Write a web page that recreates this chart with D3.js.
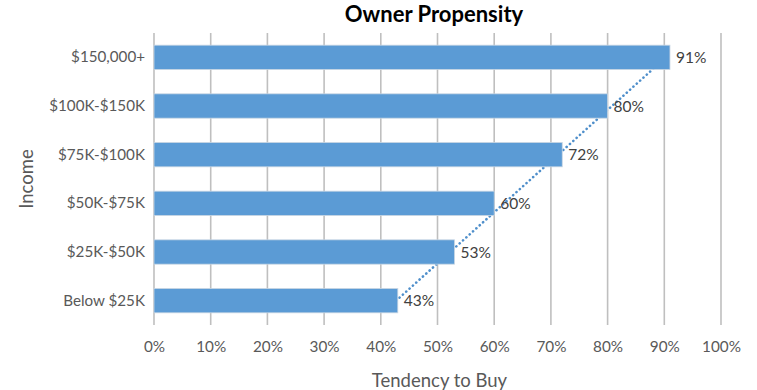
<!DOCTYPE html>
<html>
<head>
<meta charset="utf-8">
<script src="https://cdn.jsdelivr.net/npm/d3@7"></script>
<style>
  html, body { margin: 0; padding: 0; background: #fff; }
  svg { display: block; }
</style>
</head>
<body>
<svg id="chart" width="757" height="390"></svg>
<script>
// Income brackets, top to bottom
const categories = ["$150,000+", "$100K-$150K", "$75K-$100K", "$50K-$75K", "$25K-$50K", "Below $25K"];
// Tendency to buy, as fractions, in the same order
const values = [0.91, 0.80, 0.72, 0.60, 0.53, 0.43];
const xTicks = [0, 0.1, 0.2, 0.3, 0.4, 0.5, 0.6, 0.7, 0.8, 0.9, 1.0];

const font = "Lato, 'Open Sans', sans-serif";
const barColor = "#5B9BD5";
const gridColor = "#BFBFBF";
const textColor = "#595959";

const svg = d3.select("#chart");
const m = { left: 154, right: 36, top: 33, bottom: 65 };
const W = 757, H = 390;

const x = d3.scaleLinear().domain([0, 1]).range([m.left, W - m.right]);
const y = d3.scaleBand().domain(categories).range([m.top, H - m.bottom]).paddingInner(0.5).paddingOuter(0.25);

// vertical gridlines
svg.append("g").selectAll("line").data(xTicks).join("line")
  .attr("x1", d => x(d)).attr("x2", d => x(d))
  .attr("y1", m.top).attr("y2", H - m.bottom)
  .attr("stroke", gridColor).attr("stroke-width", 1.6);

// linear trendline over category index (1 = bottom ... n = top)
const n = values.length;
const pts = values.map((v, i) => ({ t: n - i, v, c: categories[i] }));
const mt = d3.mean(pts, p => p.t), mv = d3.mean(pts, p => p.v);
const slope = d3.sum(pts, p => (p.t - mt) * (p.v - mv)) / d3.sum(pts, p => (p.t - mt) ** 2);
const fit = t => mv + slope * (t - mt);
const first = pts[pts.length - 1], last = pts[0];
svg.append("line")
  .attr("x1", x(fit(first.t))).attr("y1", y(first.c) + y.bandwidth() / 2)
  .attr("x2", x(fit(last.t))).attr("y2", y(last.c) + y.bandwidth() / 2)
  .attr("stroke", "#4F8FCB").attr("stroke-width", 2.6)
  .attr("stroke-linecap", "round").attr("stroke-dasharray", "0.1 4.4");

// bars
svg.append("g").selectAll("rect").data(values).join("rect")
  .attr("x", x(0)).attr("y", (d, i) => y(categories[i]))
  .attr("width", d => x(d) - x(0)).attr("height", y.bandwidth())
  .attr("fill", barColor).attr("stroke", "#C9D6E3").attr("stroke-width", 0.8);

// value labels
svg.append("g").selectAll("text").data(values).join("text")
  .attr("x", d => x(d) + 6).attr("y", (d, i) => y(categories[i]) + y.bandwidth() / 2)
  .attr("dy", "0.36em").attr("font-family", font).attr("font-size", 15.5)
  .attr("fill", "#404040").text(d => d3.format(".0%")(d));

// category labels
const yAxis = d3.axisLeft(y).tickSize(0).tickPadding(9);
const gy = svg.append("g").attr("transform", `translate(${m.left},0)`).call(yAxis);
gy.select(".domain").remove();
gy.selectAll("text").attr("font-family", font).attr("font-size", 15.2).attr("fill", textColor);

// percentage axis labels
const xAxis = d3.axisBottom(x).tickValues(xTicks).tickFormat(d3.format(".0%")).tickSize(0).tickPadding(16);
const gx = svg.append("g").attr("transform", `translate(0,${H - m.bottom})`).call(xAxis);
gx.select(".domain").remove();
gx.selectAll("text").attr("font-family", font).attr("font-size", 15.3).attr("fill", textColor);

// titles
svg.append("text").attr("x", 434).attr("y", 22).attr("text-anchor", "middle")
  .attr("font-family", font).attr("font-size", 22).attr("font-weight", "bold")
  .attr("fill", "#000").text("Owner Propensity");
svg.append("text").attr("x", (x(0) + x(1)) / 2 + 2).attr("y", 387).attr("text-anchor", "middle")
  .attr("font-family", font).attr("font-size", 18.5).attr("fill", textColor).text("Tendency to Buy");
svg.append("text").attr("transform", `translate(33,${(m.top + H - m.bottom) / 2}) rotate(-90)`)
  .attr("text-anchor", "middle").attr("font-family", font).attr("font-size", 18.5)
  .attr("fill", textColor).text("Income");
</script>
</body>
</html>
